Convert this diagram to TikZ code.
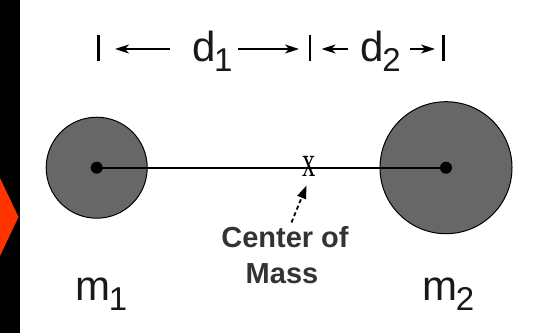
\documentclass[tikz,border=0pt]{standalone}
\usepackage{fontspec}
\setmainfont{Liberation Sans}
\newfontfamily\serifx{Liberation Serif}
\usetikzlibrary{arrows.meta,calc}
\definecolor{massgray}{HTML}{676767}
\definecolor{txtgray}{HTML}{333333}
\definecolor{chevron}{HTML}{FF3300}
\tikzset{
 mass/.style={circle, draw=black, line width=1pt, fill=massgray, inner sep=0pt},
 dotmark/.style={circle, fill=black, inner sep=0pt, minimum size=12pt},
 lbl/.style={inner sep=0pt, anchor=base west, font=\fontsize{42}{42}\selectfont, text=black!90},
 dimarrow/.style={line width=1.8pt, -{Stealth[length=14pt,width=9pt,inset=4pt]}},
 dimbar/.style={line width=2.4pt},
 comlbl/.style={font=\bfseries\fontsize{29}{34}\selectfont, text=txtgray, inner sep=0pt, anchor=base},
 comarrow/.style={line width=1.8pt, dash pattern=on 4pt off 3pt, -{Triangle[length=13pt,width=9pt]}},
}
\newcommand{\sbs}[1]{\kern-1.5pt\raisebox{-10.5pt}{\fontsize{33}{33}\selectfont #1}}
\begin{document}
\begin{tikzpicture}[x=1pt,y=-1pt]
\useasboundingbox (0,0) rectangle (545,333);
\fill[white] (0,0) rectangle (545,333);
\fill[black] (0,0) rectangle (20,333);
\fill[chevron] (0,178) -- (18.5,217) -- (0,256) -- cycle;

% masses
\node[mass, minimum size=101pt] (m1c) at (96.7,167.7) {};
\node[mass, minimum size=132pt] (m2c) at (446,167.7) {};
\draw[line width=2pt] (m1c.center) -- (m2c.center);
\node[dotmark] (dot1) at (m1c.center) {};
\node[dotmark] (dot2) at (m2c.center) {};

% centre of mass mark
\node[inner sep=0pt, anchor=base, font=\serifx\fontsize{44}{44}\selectfont] (xm) at (309,176) {\scalebox{0.6}[1]{x}};

% labels
\node[comlbl] (com1) at (285,247) {Center of};
\node[comlbl] (com2) at (282,283) {Mass};
\coordinate (comtail) at (291.5,222.5);
\coordinate (comtip) at (306.5,185.5);
\draw[comarrow] (comtail) -- (comtip);

\node[lbl] (m1) at (75.3,300) {m\sbs{1}};
\node[lbl] (m2) at (422.3,300) {m\sbs{2}};

% dimension line
\node[lbl] (d1) at (192,61) {d\sbs{1}};
\node[lbl] (d2) at (360.3,61) {d\sbs{2}};
\coordinate (b1t) at (98.5,35); \coordinate (b1b) at (98.5,61);
\coordinate (b2t) at (310,35); \coordinate (b2b) at (310,61);
\coordinate (b3t) at (443.5,35); \coordinate (b3b) at (443.5,61);
\draw[dimbar] (b1t) -- (b1b);
\draw[dimbar] (b2t) -- (b2b);
\draw[dimbar] (b3t) -- (b3b);
\coordinate (a1s) at (170,49); \coordinate (a1e) at (115,49);
\coordinate (a2s) at (238,49); \coordinate (a2e) at (299,49);
\coordinate (a3s) at (348,49); \coordinate (a3e) at (321.5,49);
\coordinate (a4s) at (410,49); \coordinate (a4e) at (435,49);
\draw[dimarrow] (a1s) -- (a1e);
\draw[dimarrow] (a2s) -- (a2e);
\draw[dimarrow] (a3s) -- (a3e);
\draw[dimarrow] (a4s) -- (a4e);
\end{tikzpicture}
\end{document}
